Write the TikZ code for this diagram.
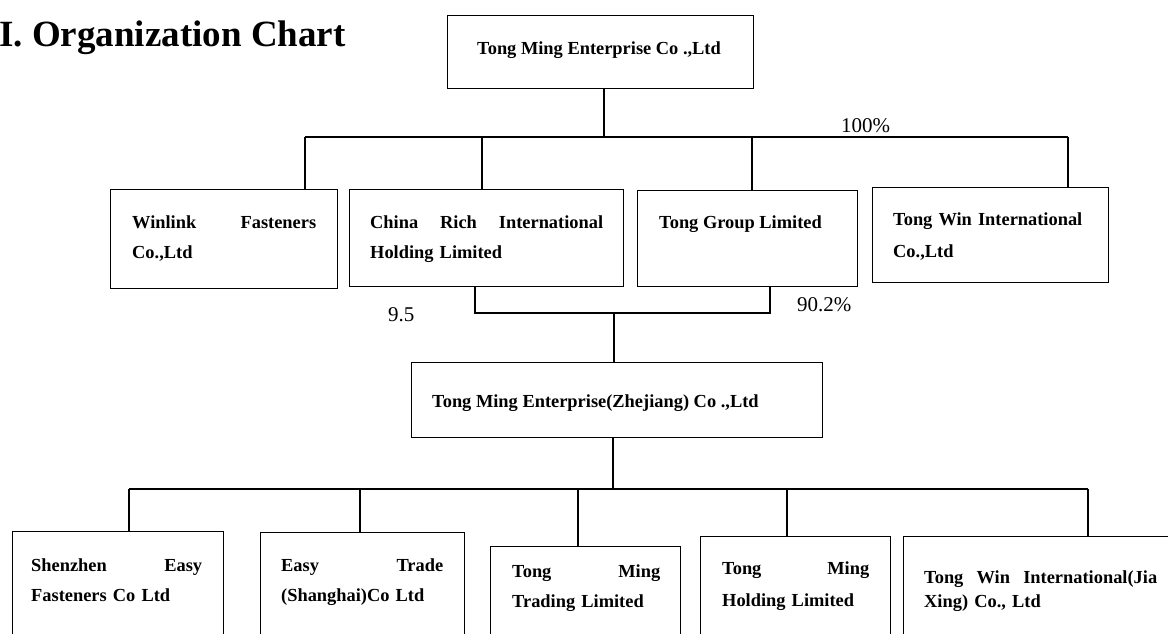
\documentclass[tikz,border=0pt]{standalone}
\usepackage{fontspec}
\setmainfont{Liberation Serif}
\begin{document}
\begin{tikzpicture}[x=1pt,y=-1pt,
  orgbox/.style={draw, line width=1.3pt, inner sep=0pt, anchor=north west},
  conn/.style={line width=2.6pt},
  txt/.style={inner sep=0pt, anchor=base west, align=left, font=\bfseries\fontsize{18.4}{#1}\selectfont},
  txt/.default=30,
  pct/.style={inner sep=0pt, anchor=base west, font=\fontsize{21}{24}\selectfont},
  title/.style={inner sep=0pt, anchor=base west, font=\bfseries\fontsize{37}{40}\selectfont}]
\useasboundingbox (0,0) rectangle (1168,633);
\clip (0,0) rectangle (1168,633);

% title
\node[title] (ttl) at (-1,46) {I. Organization Chart};

% boxes
\node[orgbox, minimum width=306pt, minimum height=73pt] (top) at (447,15) {};
\node[orgbox, minimum width=227pt, minimum height=99pt] (win) at (110,189) {};
\node[orgbox, minimum width=274pt, minimum height=97pt] (china) at (349,189) {};
\node[orgbox, minimum width=220pt, minimum height=96pt] (tg) at (637,190) {};
\node[orgbox, minimum width=236pt, minimum height=95pt] (tw) at (872,187) {};
\node[orgbox, minimum width=411pt, minimum height=75pt] (zj) at (411,362) {};
\node[orgbox, minimum width=211pt, minimum height=170pt] (sz) at (11.5,531) {};
\node[orgbox, minimum width=204pt, minimum height=170pt] (et) at (260,532) {};
\node[orgbox, minimum width=190pt, minimum height=170pt] (tr) at (490,546) {};
\node[orgbox, minimum width=190pt, minimum height=170pt] (hd) at (700,536) {};
\node[orgbox, minimum width=307pt, minimum height=170pt] (jx) at (903,536) {};

% texts
\node[txt] (topT) at (477,54) {Tong Ming Enterprise Co .,Ltd};
\node[txt, text width=184pt] (winT) at (132,228) {Winlink\hfill Fasteners\\Co.,Ltd};
\node[txt, text width=233pt] (chinaT) at (370,228) {China\hfill Rich\hfill International\\Holding Limited};
\node[txt] (tgT) at (659,228) {Tong Group Limited};
\node[txt=32, text width=200pt] (twT) at (893,225) {Tong Win International\\Co.,Ltd};
\node[txt] (zjT) at (432,407) {Tong Ming Enterprise(Zhejiang) Co .,Ltd};
\node[txt, text width=171pt] (szT) at (31,571) {Shenzhen\hfill Easy\\Fasteners Co Ltd};
\node[txt, text width=162pt] (etT) at (281,571) {Easy\hfill Trade\\(Shanghai)Co Ltd};
\node[txt, text width=148pt] (trT) at (512,577) {Tong\hfill Ming\\Trading Limited};
\node[txt=32, text width=147pt] (hdT) at (722,574) {Tong\hfill Ming\\Holding Limited};
\node[txt=24, text width=233pt] (jxT) at (924,583) {Tong\hfill Win\hfill International(Jia\\Xing) Co., Ltd};

% percentages
\node[pct] (p100) at (841,132) {100\%};
\node[pct] (p902) at (797,311) {90.2\%};
\node[pct] (p95) at (388,321) {9.5};

% connector coordinates
\coordinate (b1) at (604,137);
\coordinate (dWin) at (305,137);
\coordinate (dChina) at (482,137);
\coordinate (dTg) at (752,137);
\coordinate (dTw) at (1068,137);
\coordinate (j1) at (475,313);
\coordinate (j2) at (770,313);
\coordinate (jm) at (614,313);
\coordinate (b2) at (613,489);
\coordinate (dSz) at (129,489);
\coordinate (dEt) at (360,489);
\coordinate (dTr) at (578,489);
\coordinate (dHd) at (787,489);
\coordinate (dJx) at (1088,489);

% connectors
\draw[conn] (top.south -| b1) -- (b1);
\draw[conn] (dWin) -- (dTw);
\draw[conn] (dWin) -- (dWin |- win.north);
\draw[conn] (dChina) -- (dChina |- china.north);
\draw[conn] (dTg) -- (dTg |- tg.north);
\draw[conn] (dTw) -- (dTw |- tw.north);
\draw[conn] (china.south -| j1) -- (j1) -- (j2) -- (j2 |- tg.south);
\draw[conn] (jm) -- (jm |- zj.north);
\draw[conn] (zj.south -| b2) -- (b2);
\draw[conn] (dSz) -- (dJx);
\draw[conn] (dSz) -- (dSz |- sz.north);
\draw[conn] (dEt) -- (dEt |- et.north);
\draw[conn] (dTr) -- (dTr |- tr.north);
\draw[conn] (dHd) -- (dHd |- hd.north);
\draw[conn] (dJx) -- (dJx |- jx.north);
\end{tikzpicture}
\end{document}
